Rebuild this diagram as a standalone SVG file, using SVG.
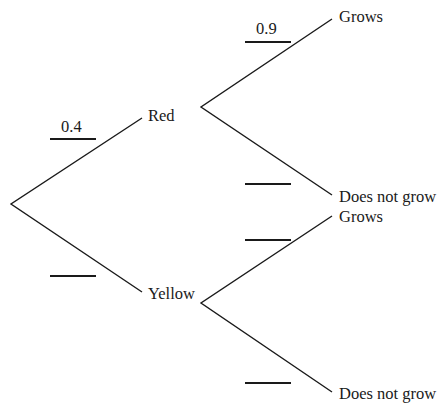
<svg xmlns="http://www.w3.org/2000/svg" width="440" height="404" viewBox="0 0 440 404">
<style>
.b{stroke:#1a1a1a;stroke-width:1.4;fill:none}
.u{stroke:#1a1a1a;stroke-width:2;fill:none}
text{font-family:"Liberation Serif","Times New Roman",serif;font-size:16.5px;fill:#1a1a1a}
</style>
<rect width="440" height="404" fill="#fff"/>
<g id="connectors">
<polyline class="b" points="142,118 11,204 142,292"/>
<polyline class="b" points="332,19 201,107 332,195"/>
<polyline class="b" points="332,216 201,303 332,392"/>
</g>
<g id="prob-red"><line class="u" x1="50" y1="139" x2="96" y2="139"/><text x="61" y="132">0.4</text></g>
<g id="prob-yellow"><line class="u" x1="50" y1="276" x2="96" y2="276"/></g>
<g id="prob-red-grows"><line class="u" x1="245" y1="42" x2="291" y2="42"/><text x="256" y="34">0.9</text></g>
<g id="prob-red-notgrow"><line class="u" x1="245" y1="184" x2="291" y2="184"/></g>
<g id="prob-yellow-grows"><line class="u" x1="245" y1="240" x2="291" y2="240"/></g>
<g id="prob-yellow-notgrow"><line class="u" x1="245" y1="383" x2="291" y2="383"/></g>
<g id="node-red"><text x="148" y="121">Red</text></g>
<g id="node-yellow"><text x="148" y="299">Yellow</text></g>
<g id="node-red-grows"><text x="339" y="22">Grows</text></g>
<g id="node-red-notgrow"><text x="339" y="202">Does not grow</text></g>
<g id="node-yellow-grows"><text x="339" y="222">Grows</text></g>
<g id="node-yellow-notgrow"><text x="339" y="399">Does not grow</text></g>
</svg>
